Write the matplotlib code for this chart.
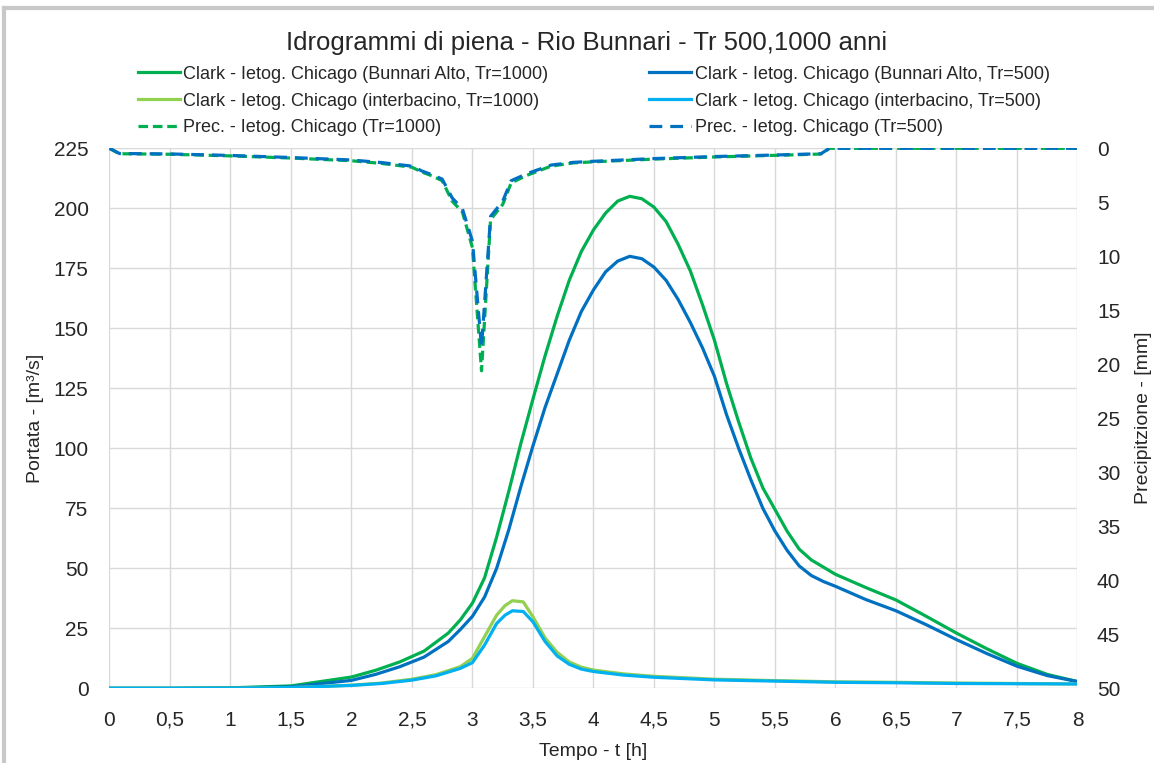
import matplotlib
matplotlib.use('Agg')
import matplotlib.pyplot as plt
from matplotlib.lines import Line2D

# Clark hydrographs - Bunnari Alto (m3/s)
t_bunnari = [0, 0.5, 1.0, 1.5, 2.0, 2.2, 2.4, 2.6, 2.8, 2.9, 3.0, 3.1, 3.2, 3.3, 3.4, 3.5,
             3.6, 3.7, 3.8, 3.9, 4.0, 4.1, 4.2, 4.3, 4.4, 4.5, 4.6, 4.7, 4.8, 4.9, 5.0,
             5.1, 5.2, 5.3, 5.4, 5.5, 5.6, 5.7, 5.8, 5.9, 6.0, 6.25, 6.5, 6.75, 7.0,
             7.25, 7.5, 7.75, 8.0]
q_bunnari_1000 = [0, 0, 0.2, 1.0, 4.7, 7.5, 11, 15.5, 23, 28.5, 35.5, 46, 63, 82, 102, 120.5,
                  138.5, 155, 170, 182, 191, 198, 203, 205, 204, 200.5, 194.5, 185, 174, 160, 145,
                  127, 111, 96, 83.5, 74.5, 65.5, 58, 53.5, 50.5, 47.5, 42, 36.8, 30, 23,
                  16.5, 10.4, 5.8, 2.8]
q_bunnari_500 = [0, 0, 0.1, 0.6, 3.3, 5.8, 9, 13, 19.5, 24.5, 30, 38, 50, 66, 84, 101,
                 117, 131, 145, 157, 166, 173.5, 178, 180, 179, 175.5, 170, 162, 152.5, 142, 130,
                 114, 100, 87, 75, 65.5, 57.5, 51, 47, 44.5, 42.5, 37, 32.3, 26.5, 20.3,
                 14.5, 9.2, 5.3, 2.8]

# Clark hydrographs - interbacino (m3/s)
t_interb = [0, 0.5, 1.0, 1.5, 2.0, 2.25, 2.5, 2.7, 2.9, 3.0, 3.1, 3.2, 3.27, 3.33, 3.42,
            3.5, 3.6, 3.7, 3.8, 3.9, 4.0, 4.25, 4.5, 5.0, 5.5, 6.0, 6.5, 7.0, 7.5, 8.0]
q_interb_1000 = [0, 0, 0.05, 0.3, 1.3, 2.2, 3.8, 5.7, 9, 12.5, 21.5, 30.5, 34.5, 36.5, 36,
                 29.8, 21, 15, 11, 8.8, 7.6, 6.0, 5.0, 3.8, 3.2, 2.7, 2.5, 2.2, 2.0, 1.8]
q_interb_500 = [0, 0, 0.05, 0.3, 1.2, 2.0, 3.4, 5.2, 8.3, 10.7, 18, 27, 30.5, 32.3, 32,
                27.7, 19.5, 13.5, 10, 8, 7, 5.5, 4.6, 3.5, 3.0, 2.5, 2.3, 2.0, 1.9, 1.8]

# Chicago hyetographs (mm)
t_prec = [0, 0.083, 0.5, 1.0, 1.5, 2.0, 2.25, 2.5, 2.583, 2.667, 2.75, 2.833, 2.917, 3.0,
          3.075, 3.15, 3.25, 3.32, 3.45, 3.65, 3.833, 4.0, 4.5, 5.0, 5.5, 5.88, 5.95, 8.0]
p_1000 = [0, 0.5, 0.55, 0.7, 0.9, 1.15, 1.4, 1.75, 2.2, 2.55, 3.0, 4.9, 5.9, 9.2,
          20.6, 6.6, 5.2, 3.2, 2.5, 1.65, 1.35, 1.25, 1.0, 0.8, 0.65, 0.53, 0, 0]
p_500 = [0, 0.48, 0.52, 0.66, 0.85, 1.08, 1.32, 1.65, 2.1, 2.45, 2.85, 4.6, 5.6, 8.6,
         18.4, 6.3, 4.9, 3.0, 2.35, 1.55, 1.3, 1.2, 0.95, 0.76, 0.62, 0.5, 0, 0]

x_ticks = [0, 0.5, 1, 1.5, 2, 2.5, 3, 3.5, 4, 4.5, 5, 5.5, 6, 6.5, 7, 7.5, 8]
x_tick_labels = ['0', '0,5', '1', '1,5', '2', '2,5', '3', '3,5', '4', '4,5', '5',
                 '5,5', '6', '6,5', '7', '7,5', '8']
q_ticks = [0, 25, 50, 75, 100, 125, 150, 175, 200, 225]
p_ticks = [0, 5, 10, 15, 20, 25, 30, 35, 40, 45, 50]

labels = ['Clark - Ietog. Chicago (Bunnari Alto, Tr=1000)',
          'Clark - Ietog. Chicago (Bunnari Alto, Tr=500)',
          'Clark - Ietog. Chicago (interbacino, Tr=1000)',
          'Clark - Ietog. Chicago (interbacino, Tr=500)',
          'Prec. - Ietog. Chicago (Tr=1000)',
          'Prec. - Ietog. Chicago (Tr=500)']

GREEN = '#00B050'
BLUE = '#0070C0'
LGREEN = '#92D050'
LBLUE = '#00B0F0'
GRID = '#D9D9D9'
TXT = '#262626'

plt.rcParams['font.family'] = ['Liberation Sans', 'DejaVu Sans']

fig = plt.figure(figsize=(11.54, 7.63), dpi=100)
ax = fig.add_axes([0.0948, 0.0979, 0.8389, 0.7077])
ax2 = ax.twinx()

l1, = ax.plot(t_bunnari, q_bunnari_1000, color=GREEN, lw=2.3)
l2, = ax.plot(t_bunnari, q_bunnari_500, color=BLUE, lw=2.3)
l3, = ax.plot(t_interb, q_interb_1000, color=LGREEN, lw=2.3)
l4, = ax.plot(t_interb, q_interb_500, color=LBLUE, lw=2.3)
l5, = ax2.plot(t_prec, p_1000, color=GREEN, lw=2.3, dashes=(3, 1.5))
l6, = ax2.plot(t_prec, p_500, color=BLUE, lw=2.3, dashes=(4, 2.5))

ax.set_xlim(0, 8)
ax.set_ylim(0, 225)
ax2.set_ylim(50, 0)
ax.set_xticks(x_ticks)
ax.set_xticklabels(x_tick_labels)
ax.set_yticks(q_ticks)
ax2.set_yticks(p_ticks)

ax.grid(True, color=GRID, lw=1.0)
ax.set_axisbelow(True)
for a in (ax, ax2):
    for s in a.spines.values():
        s.set_visible(False)
    a.tick_params(length=0, labelsize=15, colors=TXT)
ax.tick_params(axis='y', pad=15)
ax.tick_params(axis='x', pad=16)
ax2.tick_params(axis='y', pad=14)

fig.text(587 / 1154, 1 - 43 / 763, 'Idrogrammi di piena - Rio Bunnari - Tr 500,1000 anni',
         ha='center', va='center', fontsize=18.5, color=TXT)
fig.text(593 / 1154, 1 - 751 / 763, 'Tempo - t [h]', ha='center', va='center',
         fontsize=14, color=TXT)
fig.text(36 / 1154, 1 - 418 / 763, 'Portata - [m³/s]', ha='center', va='center',
         rotation=90, fontsize=14, color=TXT)
fig.text(1143 / 1154, 1 - 418 / 763, 'Precipitzione - [mm]', ha='center', va='center',
         rotation=90, fontsize=14, color=TXT)

handles = [l1, l3, l5, l2, l4, l6]
leg_labels = [labels[0], labels[2], labels[4], labels[1], labels[3], labels[5]]
fig.legend(handles, leg_labels, ncol=2, loc='center left',
           bbox_to_anchor=(138 / 1154, 1 - 101 / 763), frameon=False,
           fontsize=13, handlelength=2.3, handletextpad=0.2,
           columnspacing=5.6, labelspacing=0.55, borderaxespad=0, borderpad=0,
           labelcolor=TXT)

# screenshot frame
fig.add_artist(Line2D([4 / 1154, 4 / 1154], [0, 1 - 8 / 763], color='#C8C8C8', lw=3,
                      transform=fig.transFigure))
fig.add_artist(Line2D([4 / 1154, 1], [1 - 8 / 763, 1 - 8 / 763], color='#C8C8C8', lw=3,
                      transform=fig.transFigure))

fig.savefig('out.png', dpi=100)
